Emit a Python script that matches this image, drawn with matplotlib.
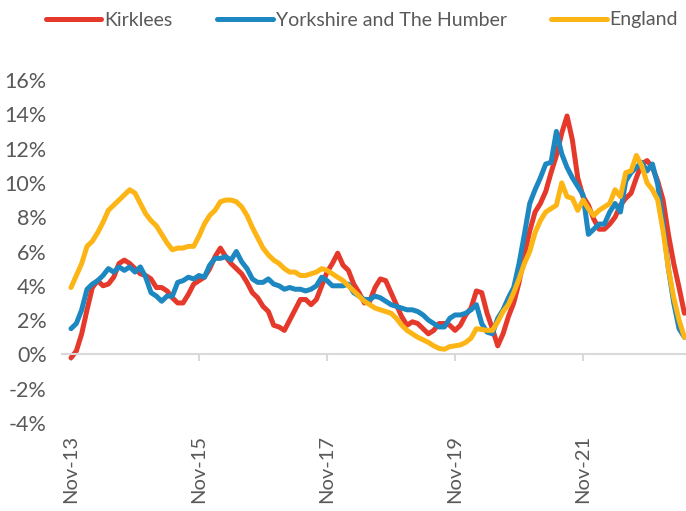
import numpy as np
import pandas as pd
import matplotlib
matplotlib.use('Agg')
import matplotlib.pyplot as plt

# monthly rates (%), Nov-13 onwards
kirklees = [-0.2, 0.2, 1.2, 2.6, 3.9, 4.3, 4.0, 4.1, 4.5, 5.3, 5.5, 5.3, 5.0, 4.7, 4.6, 4.4, 3.9, 3.9, 3.7, 3.3,
            3.0, 3.0, 3.5, 4.1, 4.3, 4.5, 5.0, 5.7, 6.2,
            5.7, 5.3, 5.0, 4.7, 4.2, 3.6, 3.3, 2.8, 2.5, 1.7, 1.6, 1.4, 2.0, 2.6, 3.2, 3.2, 2.9, 3.2, 4.0, 4.8,
            5.3, 5.9, 5.2, 4.9, 4.1, 3.6, 3.0, 3.1, 3.9,
            4.4, 4.3, 3.6, 2.9, 2.2, 1.7, 1.9, 1.8, 1.5, 1.2, 1.4, 1.8, 1.8, 1.7, 1.4, 1.7, 2.3, 2.7, 3.7, 3.6,
            2.4, 1.5, 0.5, 1.2, 2.2, 3.0, 4.2, 5.8, 7.2, 8.3,
            8.8, 9.5, 10.6, 11.6, 12.9, 13.9, 12.5, 10.3, 9.2, 8.7, 7.9, 7.3, 7.3, 7.6, 8.0, 8.7, 9.1, 9.4,
            10.3, 11.1, 11.3, 10.9, 10.1, 9.0, 7.0, 5.3, 3.9, 2.4]
yorkshire = [1.5, 1.8, 2.6, 3.8, 4.1, 4.3, 4.6, 5.0, 4.8, 5.1, 4.9, 5.1, 4.8, 5.1, 4.5, 3.6, 3.4, 3.1, 3.4, 3.4,
             4.2, 4.3, 4.5, 4.4, 4.6, 4.5, 5.2, 5.6, 5.6,
             5.7, 5.5, 6.0, 5.4, 5.0, 4.4, 4.2, 4.2, 4.4, 4.1, 4.0, 3.8, 3.9, 3.8, 3.8, 3.7, 3.8, 4.0, 4.5, 4.3,
             4.0, 4.0, 4.0, 4.1, 3.6, 3.4, 3.2, 3.2, 3.4,
             3.3, 3.1, 2.9, 2.8, 2.7, 2.6, 2.6, 2.5, 2.3, 2.0, 1.8, 1.6, 1.6, 2.1, 2.3, 2.3, 2.4, 2.6, 2.9, 1.8,
             1.3, 1.2, 2.1, 2.6, 3.3, 3.9, 5.3, 7.0, 8.8,
             9.6, 10.3, 11.1, 11.2, 13.0, 11.7, 10.9, 10.3, 9.8, 9.3, 7.0, 7.3, 7.6, 7.6, 8.3, 8.8, 8.3, 10.1,
             10.6, 10.9, 11.2, 10.7, 11.1, 9.9, 7.6, 5.0, 3.0, 1.5, 1.0]
england = [3.9, 4.6, 5.3, 6.3, 6.6, 7.1, 7.7, 8.4, 8.7, 9.0, 9.3, 9.6, 9.4, 8.8, 8.2, 7.8, 7.5, 7.0, 6.5, 6.1,
           6.2, 6.2, 6.3, 6.3, 6.9, 7.6, 8.1, 8.4, 8.9,
           9.0, 9.0, 8.9, 8.6, 8.1, 7.4, 6.8, 6.2, 5.8, 5.5, 5.3, 5.0, 4.8, 4.8, 4.6, 4.6, 4.7, 4.8, 5.0, 4.9,
           4.7, 4.5, 4.3, 4.0, 3.7, 3.4, 3.1, 2.9, 2.7, 2.6,
           2.5, 2.4, 2.1, 1.7, 1.4, 1.2, 1.0, 0.85, 0.7, 0.5, 0.35, 0.3, 0.45, 0.5, 0.55, 0.7, 0.95, 1.5,
           1.45, 1.4, 1.4, 1.9, 2.5, 2.9, 3.6, 4.4, 5.3,
           6.0, 7.1, 7.8, 8.3, 8.5, 8.7, 10.0, 9.2, 9.1, 8.4, 9.0, 8.5, 8.1, 8.4, 8.6, 8.8, 9.6, 9.2, 10.6,
           10.7, 11.6, 11.0, 10.0, 9.6, 9.0, 7.2, 5.0, 3.3, 2.0, 1.0]

months = pd.date_range('2013-11-01', periods=len(kirklees), freq='MS')
x = np.arange(len(months))

series = [('Kirklees', kirklees, '#E5392B'),
          ('Yorkshire and The Humber', yorkshire, '#1C87C0'),
          ('England', england, '#FDB515')]

plt.rcParams['font.family'] = ['Lato', 'DejaVu Sans']
grey = '#595959'

fig = plt.figure(figsize=(6.86, 5.11), dpi=100)
ax = fig.add_axes([62/686, 88/511, 624/686, 343/511])

for name, vals, col in series:
    ax.plot(x, np.array(vals) / 100, color=col, linewidth=3.6, label=name,
            solid_capstyle='round', solid_joinstyle='round', clip_on=False)

# axis line at zero (set first, it resets the ticks)
for s in ['top', 'right', 'left']:
    ax.spines[s].set_visible(False)
ax.spines['bottom'].set_position(('data', 0))
ax.spines['bottom'].set_color('#D9D9D9')
ax.spines['bottom'].set_linewidth(1.5)

ax.set_xlim(-1.69, 115.3)
ax.set_ylim(-0.04, 0.16)
ax.set_yticks(np.arange(-0.04, 0.161, 0.02))
ax.set_yticklabels([f'{v:.0f}%' for v in np.arange(-4, 17, 2)])

tick_pos = [i for i, d in enumerate(months) if d.month == 11 and d.year % 2 == 1]
ax.set_xticks(tick_pos)
ax.set_xticklabels([months[i].strftime('%b-%y') for i in tick_pos])

ax.tick_params(axis='x', colors='#D9D9D9', length=5, width=1.5, pad=53, labelcolor=grey,
               labelsize=14.5, labelrotation=90)
ax.tick_params(axis='y', length=0, labelcolor=grey, labelsize=15.5, pad=11)

fig.legend(loc='center left', bbox_to_anchor=(46/686, 1 - 20/511), ncol=3, frameon=False,
           fontsize=14, labelcolor=grey, handlelength=2.85, handletextpad=0.15,
           columnspacing=2.3, borderpad=0, borderaxespad=0)

fig.savefig('out.png', dpi=100)
